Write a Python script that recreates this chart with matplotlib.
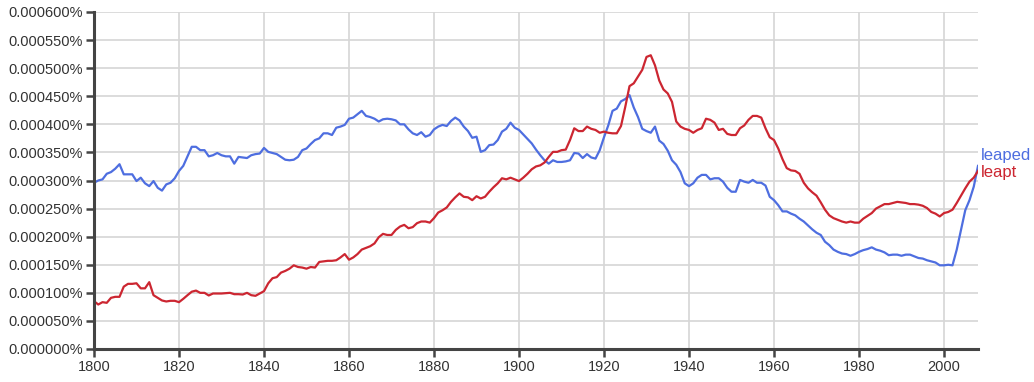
import matplotlib
matplotlib.use("Agg")
import matplotlib.pyplot as plt
from matplotlib.ticker import FuncFormatter, MultipleLocator

years = list(range(1800, 2009))

leaped = [
    0.000296, 0.000300, 0.000302, 0.000312, 0.000315, 0.000321, 0.000329, 0.000311, 0.000311, 0.000311,
    0.000299, 0.000305, 0.000295, 0.000290, 0.000299, 0.000287, 0.000282, 0.000293, 0.000296, 0.000304,
    0.000317, 0.000326, 0.000343, 0.000360, 0.000360, 0.000354, 0.000354, 0.000343, 0.000345, 0.000349,
    0.000345, 0.000343, 0.000343, 0.000330, 0.000342, 0.000341, 0.000340, 0.000345, 0.000347, 0.000348,
    0.000358, 0.000351, 0.000349, 0.000347, 0.000342, 0.000337, 0.000336, 0.000337, 0.000342, 0.000354,
    0.000357, 0.000365, 0.000372, 0.000375, 0.000384, 0.000384, 0.000381, 0.000394, 0.000396, 0.000399,
    0.000410, 0.000412, 0.000418, 0.000424, 0.000415, 0.000413, 0.000410, 0.000405, 0.000409, 0.000410,
    0.000409, 0.000407, 0.000400, 0.000400, 0.000391, 0.000384, 0.000381, 0.000386, 0.000378, 0.000381,
    0.000391, 0.000396, 0.000399, 0.000397, 0.000406, 0.000412, 0.000407, 0.000396, 0.000388, 0.000376,
    0.000378, 0.000351, 0.000354, 0.000363, 0.000364, 0.000372, 0.000387, 0.000392, 0.000403, 0.000394,
    0.000390, 0.000382, 0.000374, 0.000366, 0.000355, 0.000345, 0.000336, 0.000330, 0.000336, 0.000333,
    0.000333, 0.000334, 0.000336, 0.000349, 0.000348, 0.000340, 0.000347, 0.000341, 0.000339, 0.000354,
    0.000377, 0.000398, 0.000424, 0.000428, 0.000441, 0.000445, 0.000452, 0.000430, 0.000413, 0.000392,
    0.000388, 0.000385, 0.000396, 0.000371, 0.000365, 0.000353, 0.000336, 0.000328, 0.000315, 0.000295,
    0.000290, 0.000295, 0.000305, 0.000310, 0.000310, 0.000302, 0.000304, 0.000304, 0.000298, 0.000287,
    0.000280, 0.000280, 0.000301, 0.000298, 0.000296, 0.000301, 0.000296, 0.000296, 0.000291, 0.000271,
    0.000265, 0.000256, 0.000245, 0.000245, 0.000241, 0.000238, 0.000232, 0.000227, 0.000220, 0.000213,
    0.000207, 0.000203, 0.000191, 0.000185, 0.000177, 0.000173, 0.000170, 0.000169, 0.000166, 0.000169,
    0.000173, 0.000176, 0.000178, 0.000181, 0.000177, 0.000175, 0.000172, 0.000167, 0.000168, 0.000168,
    0.000166, 0.000168, 0.000168, 0.000165, 0.000162, 0.000161, 0.000158, 0.000156, 0.000154, 0.000149,
    0.000149, 0.000150, 0.000149, 0.000177, 0.000212, 0.000247, 0.000265, 0.000289, 0.000326,
]

leapt = [
    0.0000852, 0.0000792, 0.0000834, 0.0000822, 0.0000911, 0.0000929, 0.0000929, 0.000111, 0.000116, 0.000116,
    0.000117, 0.000108, 0.000108, 0.000119, 0.0000958, 0.0000911, 0.0000864, 0.0000846, 0.0000858, 0.0000858,
    0.0000834, 0.0000893, 0.0000958, 0.000102, 0.000104, 0.000100, 0.000100, 0.0000953, 0.0000988, 0.0000988,
    0.0000988, 0.0000994, 0.000100, 0.0000976, 0.0000976, 0.0000970, 0.000100, 0.0000958, 0.0000947, 0.0000988,
    0.000103, 0.000117, 0.000126, 0.000128, 0.000136, 0.000139, 0.000143, 0.000149, 0.000146, 0.000145,
    0.000143, 0.000146, 0.000145, 0.000155, 0.000156, 0.000157, 0.000157, 0.000158, 0.000163, 0.000169,
    0.000159, 0.000163, 0.000169, 0.000177, 0.000180, 0.000183, 0.000188, 0.000199, 0.000205, 0.000203,
    0.000203, 0.000212, 0.000218, 0.000221, 0.000215, 0.000217, 0.000224, 0.000227, 0.000227, 0.000225,
    0.000233, 0.000243, 0.000247, 0.000252, 0.000262, 0.000270, 0.000277, 0.000271, 0.000270, 0.000265,
    0.000272, 0.000268, 0.000271, 0.000280, 0.000288, 0.000295, 0.000304, 0.000302, 0.000305, 0.000302,
    0.000299, 0.000305, 0.000312, 0.000320, 0.000325, 0.000327, 0.000332, 0.000342, 0.000351, 0.000351,
    0.000354, 0.000355, 0.000372, 0.000393, 0.000388, 0.000388, 0.000396, 0.000392, 0.000390, 0.000385,
    0.000387, 0.000385, 0.000384, 0.000384, 0.000397, 0.000431, 0.000468, 0.000473, 0.000485, 0.000497,
    0.000520, 0.000523, 0.000505, 0.000478, 0.000462, 0.000455, 0.000440, 0.000405, 0.000396, 0.000392,
    0.000390, 0.000385, 0.000390, 0.000393, 0.000410, 0.000408, 0.000403, 0.000390, 0.000392, 0.000383,
    0.000381, 0.000381, 0.000393, 0.000398, 0.000408, 0.000415, 0.000415, 0.000412, 0.000393, 0.000377,
    0.000372, 0.000357, 0.000338, 0.000322, 0.000318, 0.000317, 0.000312, 0.000296, 0.000286, 0.000279,
    0.000273, 0.000261, 0.000248, 0.000238, 0.000233, 0.000230, 0.000227, 0.000225, 0.000227, 0.000225,
    0.000225, 0.000232, 0.000237, 0.000242, 0.000250, 0.000254, 0.000258, 0.000258, 0.000260, 0.000262,
    0.000261, 0.000260, 0.000258, 0.000258, 0.000257, 0.000255, 0.000251, 0.000244, 0.000241, 0.000236,
    0.000242, 0.000244, 0.000248, 0.000260, 0.000273, 0.000286, 0.000298, 0.000305, 0.000317,
]

series_names = ["leaped", "leapt"]
series_colors = ["#4e6ee0", "#cc2631"]

plt.rcParams['font.family'] = ['Liberation Sans', 'DejaVu Sans']

fig = plt.figure(figsize=(10.34, 3.82), dpi=100)
ax = fig.add_axes([94/1034, 33/382, (978-94)/1034, (349-12)/382])

ax.plot(years, leaped, color=series_colors[0], lw=1.6, solid_joinstyle='round', zorder=3)
ax.plot(years, leapt, color=series_colors[1], lw=1.6, solid_joinstyle='round', zorder=3)

ax.set_xlim(1800, 2008)
ax.set_ylim(0, 0.0006)
ax.yaxis.set_major_locator(MultipleLocator(0.00005))
ax.xaxis.set_major_locator(MultipleLocator(20))
ax.yaxis.set_major_formatter(FuncFormatter(lambda v, p: f"{v:.6f}%"))

ax.grid(True, color="#d6d6d6", lw=1.2, zorder=0)
ax.set_axisbelow(True)
for s in ["top", "right"]:
    ax.spines[s].set_visible(False)
for s in ["left", "bottom"]:
    ax.spines[s].set_color("#444444")
    ax.spines[s].set_linewidth(2.2)
    ax.spines[s].set_zorder(4)

ax.tick_params(axis='both', colors="#444444", labelcolor="#333333", labelsize=10.5,
               length=6, width=1.8, direction='out', pad=2)

ax.annotate(series_names[0], xy=(years[-1], leaped[-1]), xytext=(2, 7.5),
            textcoords='offset points', color=series_colors[0], fontsize=12,
            va='center', ha='left', annotation_clip=False)
ax.annotate(series_names[1], xy=(years[-1], leapt[-1]), xytext=(2, -1),
            textcoords='offset points', color=series_colors[1], fontsize=12,
            va='center', ha='left', annotation_clip=False)

fig.savefig("out.png", dpi=100)
